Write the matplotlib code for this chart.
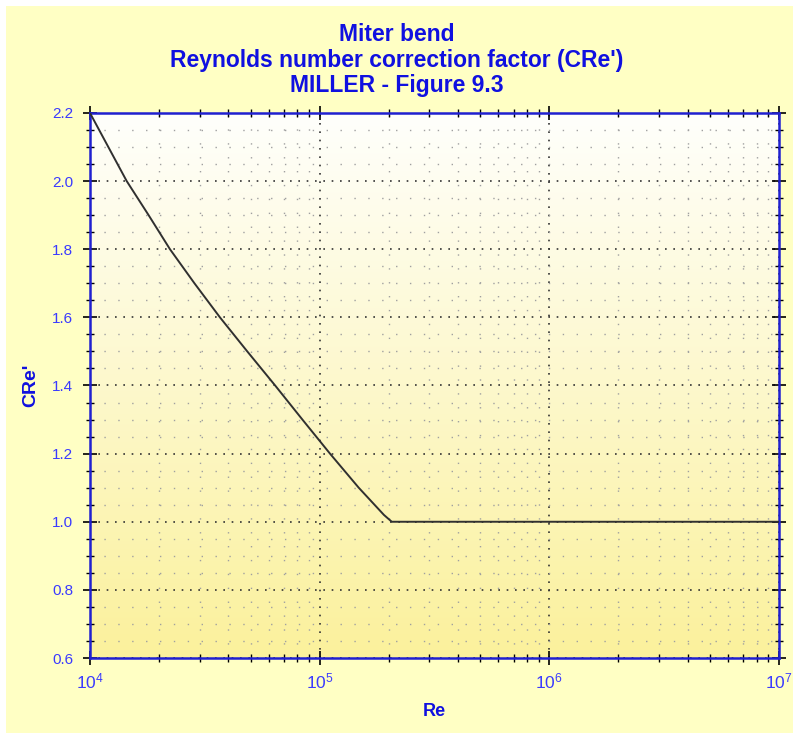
import numpy as np
import matplotlib
matplotlib.use("Agg")
import matplotlib.pyplot as plt
from matplotlib.patches import Rectangle
from matplotlib.ticker import MultipleLocator, LogLocator, NullFormatter, FormatStrFormatter

plt.rcParams['font.family'] = ['Liberation Sans', 'DejaVu Sans']
plt.rcParams['mathtext.default'] = 'regular'

# curve
re = [1e4, 1.445e4, 1.80e4, 2.23e4, 2.85e4, 3.68e4, 4.84e4, 6.40e4, 8.41e4,
      1.109e5, 1.479e5, 1.905e5, 2.06e5, 2.3e5, 1e6, 1e7]
cre = [2.2, 2.0, 1.9, 1.8, 1.7, 1.6, 1.5, 1.4, 1.3,
       1.2, 1.1, 1.02, 1.0, 1.0, 1.0, 1.0]

title = "Miter bend\nReynolds number correction factor (CRe')\nMILLER - Figure 9.3"
blue = '#1010e0'
tick_blue = '#3a3aff'

fig = plt.figure(figsize=(7.93, 7.33), dpi=100, facecolor='white')
fig.patches.append(Rectangle((6 / 793, 0), 1 - 6 / 793, 1 - 6 / 733,
                             transform=fig.transFigure, facecolor='#ffffc4',
                             edgecolor='none', zorder=-10))

ax = fig.add_axes([90 / 793, 1 - 658 / 733, 689 / 793, 545 / 733])
ax.set_xscale('log')
ax.set_xlim(1e4, 1e7)
ax.set_ylim(0.6, 2.2)

# white-to-yellow background gradient
grad = np.linspace(0, 1, 256).reshape(-1, 1)
cmap = matplotlib.colors.LinearSegmentedColormap.from_list('bg', ['#fffffc', '#fbf19c'])
ax.imshow(grad, aspect='auto', cmap=cmap, extent=[0, 1, 0, 1], origin='upper',
          transform=ax.transAxes, zorder=0)

ax.plot(re, cre, color='#303030', lw=1.4, zorder=3)

ax.yaxis.set_major_locator(MultipleLocator(0.2))
ax.yaxis.set_minor_locator(MultipleLocator(0.05))
ax.xaxis.set_major_locator(LogLocator(base=10))
ax.xaxis.set_minor_locator(LogLocator(base=10, subs=np.arange(2, 10)))
ax.xaxis.set_minor_formatter(NullFormatter())
ax.yaxis.set_major_formatter(FormatStrFormatter('%.1f'))

ax.grid(which='major', color='#333333', ls=(0, (1, 4)), lw=1.2, zorder=1)
ax.grid(which='minor', color='#a0a0a0', ls=(0, (1, 9)), lw=1.0, zorder=1)

ax.tick_params(which='both', direction='inout', color='black', top=True, right=True,
               labelcolor=tick_blue)
ax.tick_params(which='major', length=10, width=1.2, pad=6)
ax.tick_params(which='minor', length=6, width=1.0)
ax.tick_params(axis='y', which='major', labelsize=11, pad=7)
ax.tick_params(axis='x', which='major', labelsize=12.5, pad=5)

for s in ax.spines.values():
    s.set_color('#2020d0')
    s.set_linewidth(1.8)

ax.set_xlabel('Re', color=blue, fontsize=13, fontweight='bold', labelpad=8)
ax.set_ylabel("CRe'", color=blue, fontsize=14, fontweight='bold', labelpad=9)

fig.text(0.5, 1 - 23 / 733, title, color=blue, fontsize=16.5, fontweight='bold',
         ha='center', va='top', linespacing=1.14)

fig.savefig('out.png', dpi=100, facecolor=fig.get_facecolor())
